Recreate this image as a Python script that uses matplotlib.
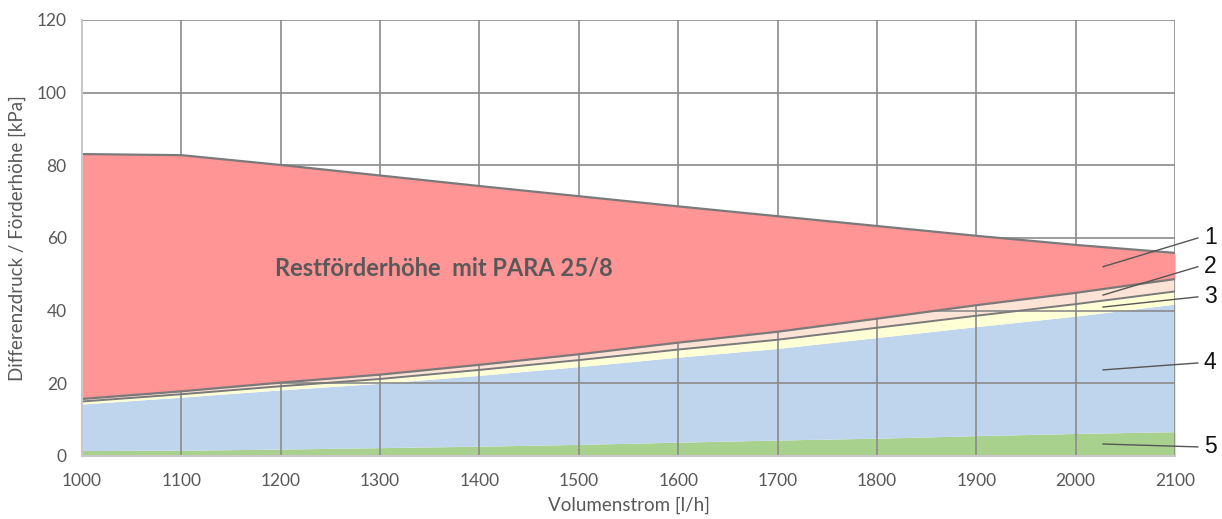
import matplotlib
matplotlib.use("Agg")
import matplotlib.pyplot as plt
import numpy as np

# ---- data ----
flow = [1000, 1100, 1200, 1300, 1400, 1500, 1600, 1700, 1800, 1900, 2000, 2100]
layer5_green = [1.5, 1.6, 1.9, 2.3, 2.7, 3.2, 3.8, 4.4, 4.9, 5.6, 6.2, 6.7]
layer4_blue = [12.8, 14.6, 16.3, 17.7, 19.5, 21.4, 23.4, 25.2, 27.7, 30.0, 32.3, 35.1]
layer3_yellow = [0.7, 0.8, 1.0, 1.2, 1.5, 1.8, 2.1, 2.4, 2.7, 3.0, 3.3, 3.5]
layer2_pink = [0.7, 0.8, 1.0, 1.2, 1.4, 1.6, 1.9, 2.2, 2.5, 2.9, 3.1, 3.4]
layer1_red = [67.4, 65.0, 59.9, 54.8, 49.2, 43.5, 37.5, 31.8, 25.5, 19.1, 13.2, 7.2]

x_ticks = [1000, 1100, 1200, 1300, 1400, 1500, 1600, 1700, 1800, 1900, 2000, 2100]
y_ticks = [0, 20, 40, 60, 80, 100, 120]
number_labels = ["1", "2", "3", "4", "5"]

plt.rcParams['font.family'] = ['Lato', 'DejaVu Sans']

fig = plt.figure(figsize=(12.22, 5.19), dpi=100)
ax = fig.add_axes([82/1222, 63/519, (1175-82)/1222, (456-20)/519])

x = np.array(flow)
c5 = np.array(layer5_green)
c4 = c5 + np.array(layer4_blue)
c3 = c4 + np.array(layer3_yellow)
c2 = c3 + np.array(layer2_pink)
c1 = c2 + np.array(layer1_red)

ax.fill_between(x, 0, c5, color='#A9D18E', lw=0, zorder=1)
ax.fill_between(x, c5, c4, color='#BFD5EE', lw=0, zorder=1)
ax.fill_between(x, c4, c3, color='#FFFFD6', lw=0, zorder=1)
ax.fill_between(x, c3, c2, color='#FCE3D6', lw=0, zorder=1)

# grid
for xv in x_ticks:
    ax.plot([xv, xv], [0, 120], color='#8a8a8a', lw=1.4, zorder=1.5, alpha=0.85)
for yv in y_ticks:
    ax.plot([1000, 2100], [yv, yv], color='#8a8a8a', lw=1.4, zorder=1.5, alpha=0.85)

ax.fill_between(x, c2, c1, color='#FF9595', lw=0, zorder=2)

lc = '#7a7a7a'
ax.plot(x, c1, color=lc, lw=1.6, zorder=3)
ax.plot(x, c2, color=lc, lw=1.6, zorder=3)
ax.plot(x, c3, color=lc, lw=1.4, zorder=3)

ax.set_xlim(1000, 2100)
ax.set_ylim(0, 120)
ax.set_xticks(x_ticks)
ax.set_yticks(y_ticks)
ax.tick_params(length=0, labelsize=12.5, colors='#595959')
ax.tick_params(axis='y', pad=11)
ax.tick_params(axis='x', pad=12)
for s in ['top', 'right']:
    ax.spines[s].set_visible(False)
for s in ['left', 'bottom']:
    ax.spines[s].set_color('#c8c8c8')
    ax.spines[s].set_linewidth(1.5)
    ax.spines[s].set_zorder(4)

ax.set_xlabel('Volumenstrom [l/h]', fontsize=13.5, color='#595959', labelpad=6)
ax.set_ylabel('Differenzdruck / Förderhöhe [kPa]', fontsize=13.5, color='#595959', labelpad=8)

ax.text(1194, 51.7, 'Restförderhöhe  mit PARA 25/8', fontsize=17, fontweight='bold',
        color='#595959', ha='left', va='center', zorder=5)

starts = [(2027.6, 52.1), (2027.6, 44.3), (2027.6, 41.0), (2027.6, 23.7), (2027.6, 3.3)]
ends = [(2123, 60.0), (2123, 52.1), (2123, 43.8), (2123, 25.6), (2123, 2.5)]
for lab, (sx, sy), (ex, ey) in zip(number_labels, starts, ends):
    ax.plot([sx, ex], [sy, ey], color='#555555', lw=1.0, zorder=5, clip_on=False)
    ax.text(ex + 6, ey, lab, fontsize=16.5, color='#111111', ha='left', va='center',
            family=['Liberation Sans', 'DejaVu Sans'], clip_on=False)

fig.savefig('out.png', dpi=100)
